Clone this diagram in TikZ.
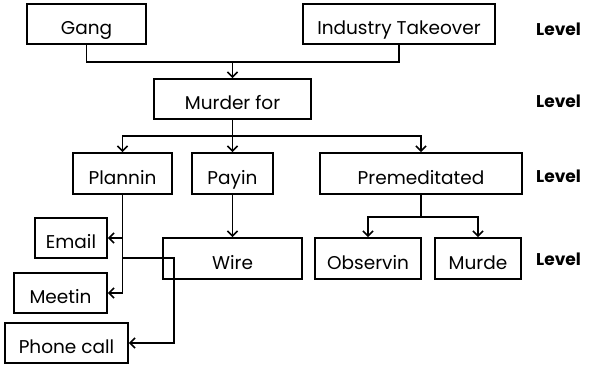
\documentclass[tikz,border=0pt]{standalone}
\usepackage{fontspec}
\setmainfont{Poppins}
\usetikzlibrary{arrows.meta}
\begin{document}
\begin{tikzpicture}[x=1pt,y=-1pt,
  box/.style={draw,line width=1.9pt,inner sep=0pt,text height=21pt,text depth=0pt,
    font=\fontsize{18.5}{20}\selectfont},
  lvl/.style={font=\fontsize{17}{19}\selectfont\bfseries,anchor=base west,inner sep=0pt},
  link/.style={line width=1.9pt},
  arr/.style={link,-{Straight Barb[length=5pt,width=10pt,line width=1.5pt]}}]
\useasboundingbox (0,0) rectangle (590,365);
% top level
\node[box,minimum width=119pt,minimum height=40pt] (gang) at (86.5,24) {Gang};
\node[box,minimum width=192pt,minimum height=40pt] (ind) at (399,24) {Industry Takeover};
% second level
\node[box,minimum width=157pt,minimum height=40pt] (murder) at (232.5,99) {Murder for};
% third level
\node[box,minimum width=99pt,minimum height=41pt] (plan) at (122.5,173.5) {Plannin};
\node[box,minimum width=81pt,minimum height=41pt] (pay) at (232.5,173.5) {Payin};
\node[box,minimum width=202pt,minimum height=41pt] (prem) at (421,173.5) {Premeditated};
% fourth level
\node[box,minimum width=139pt,minimum height=41pt] (wire) at (232.5,258.5) {Wire};
\node[box,minimum width=106pt,minimum height=41pt] (obs) at (368,258.5) {Observin};
\node[box,minimum width=86pt,minimum height=41pt] (murde) at (478,258.5) {Murde};
% planning leaves
\node[box,minimum width=72pt,minimum height=40pt] (email) at (71,238) {Email};
\node[box,minimum width=93pt,minimum height=40pt] (meet) at (60.5,293) {Meetin};
\node[box,minimum width=123pt,minimum height=40pt] (phone) at (66.5,343) {Phone call};
% level labels
\node[lvl] (l1) at (536,35) {Level};
\node[lvl] (l2) at (536,107) {Level};
\node[lvl] (l3) at (536,182) {Level};
\node[lvl] (l4) at (536,265) {Level};
% junctions
\coordinate (j1) at (232.5,62);
\coordinate (j2) at (232.5,136);
\coordinate (j3) at (421,217);
\coordinate (c1) at (122.5,258);
\coordinate (c2) at (174,258);
% connectors
\draw[link] (gang.south) |- (j1) -| (ind.south);
\draw[arr] (j1) -- (murder.north);
\draw[link] (murder.south) -- (j2);
\draw[arr] (j2) -| (plan.north);
\draw[arr] (j2) -- (pay.north);
\draw[arr] (j2) -| (prem.north);
\draw[arr] (pay.south) -- (wire.north);
\draw[link] (prem.south) -- (j3);
\draw[arr] (j3) -| (obs.north);
\draw[arr] (j3) -| (murde.north);
\draw[arr] (plan.south) |- (meet.east);
\draw[arr] (plan.south |- email.east) -- (email.east);
\draw[arr] (c1) -- (c2) |- (phone.east);
\end{tikzpicture}
\end{document}
